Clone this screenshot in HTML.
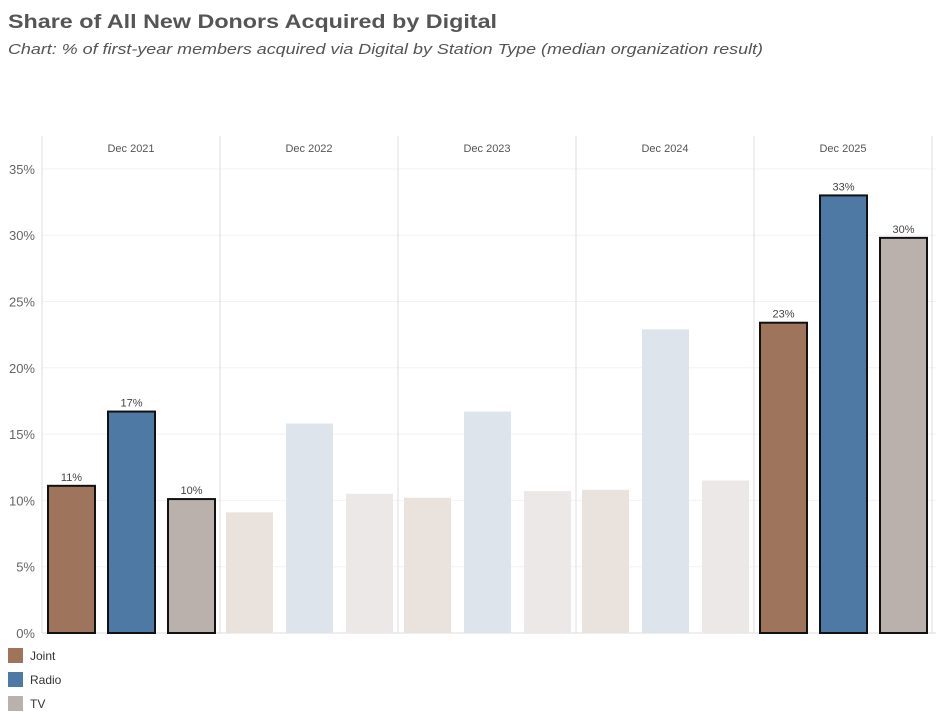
<!DOCTYPE html>
<html><head><meta charset="utf-8"><style>
body{margin:0;background:#fff;width:936px;height:717px;overflow:hidden;font-family:"Liberation Sans",sans-serif}
</style></head><body>
<svg width="936" height="717">
<text x="8" y="28" font-size="19" font-weight="bold" fill="#555" textLength="489" lengthAdjust="spacingAndGlyphs">Share of All New Donors Acquired by Digital</text>
<text x="8" y="54" font-size="15" font-style="italic" fill="#555" textLength="755" lengthAdjust="spacingAndGlyphs">Chart: % of first-year members acquired via Digital by Station Type (median organization result)</text>
<g id="grid"></g><g id="bars"></g><g id="legend"></g>
</svg>
<script>
const years=["Dec 2021","Dec 2022","Dec 2023","Dec 2024","Dec 2025"];
const series=["Joint","Radio","TV"];
const joint=[11.1,9.1,10.2,10.8,23.4];
const radio=[16.7,15.8,16.7,22.9,33.0];
const tv=[10.1,10.5,10.7,11.5,29.8];
const highlighted=[true,false,false,false,true];
const ticks=[0,5,10,15,20,25,30,35];
const NS="http://www.w3.org/2000/svg";
const x0=42,pw=178,y0=633,pxPer=13.26,plotTop=136;
const yS=v=>y0-v*pxPer;
function mk(t,a,p){const e=document.createElementNS(NS,t);for(const k in a)e.setAttribute(k,a[k]);p.appendChild(e);return e;}
const g=document.getElementById('grid'),b=document.getElementById('bars'),lg=document.getElementById('legend');
ticks.forEach(t=>{
 const l=mk('line',{x1:x0,x2:936,y1:yS(t),y2:yS(t),stroke:t==0?'#ddd':'#f2f2f2'},g);
 
 
 const tx=mk('text',{x:35,y:yS(t)+5,'font-size':13,fill:'#666','text-anchor':'end'},g);tx.textContent=t+'%';
 
 
});
for(let i=0;i<=5;i++){
 const l=mk('line',{x1:x0+i*pw,x2:x0+i*pw,y1:plotTop,y2:y0,stroke:'#ddd'},g);
 
 
}
const colors=["#9e755c","#4e79a5","#bab0ac"],faded=["#e9e2dd","#dde4ec","#ebe8e7"];
const data=[joint,radio,tv];
years.forEach((yr,i)=>{
 const h=mk('text',{x:x0+i*pw+pw/2,y:152,'font-size':11,fill:'#555','text-anchor':'middle'},g);h.textContent=yr;
 
 
 series.forEach((s,j)=>{
  const v=data[j][i],bx=x0+i*pw+6+j*60;
  const r=mk('rect',{x:bx,y:yS(v),width:47,height:y0-yS(v),fill:highlighted[i]?colors[j]:faded[j],stroke:highlighted[i]?'#111':'none','stroke-width':2},b);
  
  
  if(highlighted[i]){
   const t=mk('text',{x:bx+23.5,y:yS(v)-5,'font-size':11,fill:'#444','text-anchor':'middle'},b);t.textContent=Math.round(v)+'%';
   
   
  }
 });
});
series.forEach((s,j)=>{
 const r=mk('rect',{x:8,y:648+j*24,width:15,height:15,fill:colors[j]},lg);
 
 
 const t=mk('text',{x:30,y:660+j*24,'font-size':12,fill:'#333'},lg);t.textContent=s;
 
 
});
</script>
</body></html>
